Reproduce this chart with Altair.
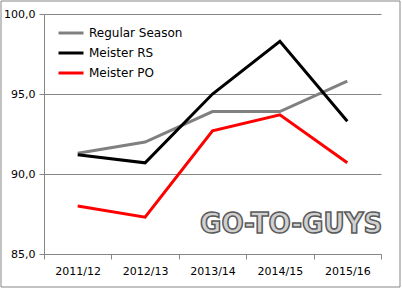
import altair as alt
import pandas as pd

seasons = ["2011/12", "2012/13", "2013/14", "2014/15", "2015/16"]
regular_season = [91.3, 92.0, 93.9, 93.9, 95.8]
meister_rs = [91.2, 90.7, 95.0, 98.3, 93.3]
meister_po = [88.0, 87.3, 92.7, 93.7, 90.7]
series_names = ["Regular Season", "Meister RS", "Meister PO"]
series_colors = ["#808080", "#000000", "#ff0000"]
y_ticks = [85, 90, 95, 100]
logo_text = ["GO-TO-GUYS"]

rows = []
for name, vals in zip(series_names, [regular_season, meister_rs, meister_po]):
    for s, v in zip(seasons, vals):
        rows.append({"Saison": s, "Wert": v, "Serie": name})
df = pd.DataFrame(rows)

GRID = "#868686"

border = alt.Chart(pd.DataFrame({"a": [0]})).mark_rect(
    fill=None, stroke=GRID, strokeWidth=1
).encode(x=alt.value(-43), x2=alt.value(356), y=alt.value(-13), y2=alt.value(273))

logo = alt.Chart(pd.DataFrame({"t": logo_text})).mark_text(
    font="DejaVu Sans Condensed", fontWeight="bold", fontSize=29, align="left",
    baseline="alphabetic", fill="#d0d0d0", stroke="#5a5a5a", strokeWidth=1.5
).encode(text="t:N", x=alt.value(156), y=alt.value(219))

lines = alt.Chart(df).mark_line(strokeWidth=3).encode(
    x=alt.X("Saison:N", sort=seasons,
            scale=alt.Scale(type="band", paddingInner=0, paddingOuter=0),
            axis=alt.Axis(title=None, labelAngle=0, tickBand="extent", tickSize=5,
                          labelPadding=6, domainColor=GRID, tickColor=GRID,
                          labelFontSize=11, labelColor="#000000")),
    y=alt.Y("Wert:Q", scale=alt.Scale(domain=[85, 100], nice=False, zero=False),
            axis=alt.Axis(title=None, values=y_ticks, tickSize=5, labelPadding=4,
                          labelExpr="replace(format(datum.value, '.1f'), '.', ',')",
                          domainColor=GRID, tickColor=GRID, gridColor=GRID,
                          labelFontSize=11, labelColor="#000000")),
    color=alt.Color("Serie:N", sort=series_names,
                    scale=alt.Scale(domain=series_names, range=series_colors),
                    legend=alt.Legend(title=None, orient="none", legendX=13, legendY=5,
                                      symbolType="stroke", symbolSize=625,
                                      symbolStrokeWidth=3, labelFontSize=12,
                                      labelOffset=4, rowPadding=-1,
                                      labelColor="#000000"))
)

chart = alt.layer(border, logo, lines).properties(
    width=337, height=240,
    padding={"left": 44, "top": 14, "right": 21, "bottom": 35},
    autosize=alt.AutoSizeParams(type="none"),
    background="white"
).configure(font="DejaVu Sans").configure_view(stroke=None).configure_axis(grid=True).configure_axisX(grid=False)

chart.save("out.html", embed_options={"renderer": "svg", "actions": False})
